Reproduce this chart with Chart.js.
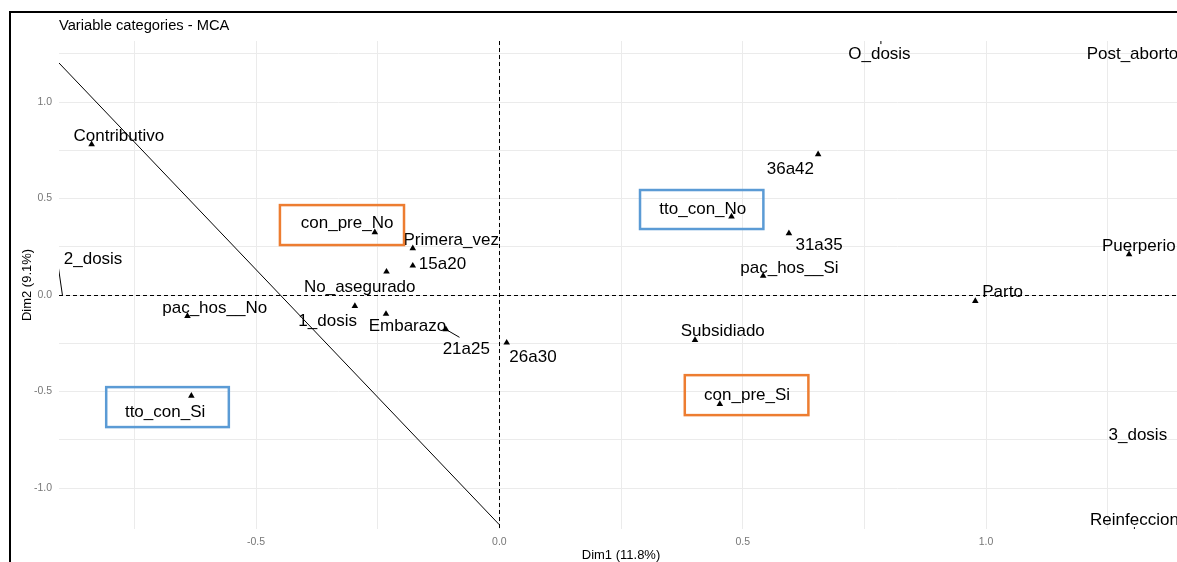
<!DOCTYPE html>
<html>
<head>
<meta charset="utf-8">
<script src="https://cdn.jsdelivr.net/npm/chart.js@4.4.0/dist/chart.umd.min.js"></script>
<style>
  body { margin: 0; background: #fff; }
  #wrap { width: 1177px; height: 562px; position: relative; }
</style>
</head>
<body>
<div id="wrap"><canvas id="mca" width="1177" height="562"></canvas></div>
<script>
// category coordinates (Dim1, Dim2) of the MCA points
const pointNames = ['Contributivo', 'con_pre_No', 'Primera_vez', '15a20', 'No_asegurado', '1_dosis',
  'Embarazo', '21a25', '26a30', 'pac_hos__No', 'tto_con_Si', 'tto_con_No', '36a42', '31a35',
  'pac_hos__Si', 'Parto', 'Subsidiado', 'con_pre_Si', 'Puerperio'];
const dim1 = [-0.838, -0.256, -0.178, -0.178, -0.232, -0.297, -0.233, -0.110, 0.015, -0.641, -0.633,
  0.477, 0.655, 0.595, 0.542, 0.978, 0.402, 0.453, 1.294];
const dim2 = [0.781, 0.325, 0.242, 0.152, 0.121, -0.057, -0.098, -0.178, -0.247, -0.109, -0.522,
  0.406, 0.729, 0.320, 0.100, -0.031, -0.233, -0.565, 0.211];

// repelled text labels (some points lie outside the visible panel)
const labelText = ['Contributivo', '2_dosis', 'con_pre_No', 'Primera_vez', '15a20', 'No_asegurado',
  '1_dosis', 'Embarazo', '21a25', '26a30', 'pac_hos__No', 'tto_con_Si', 'tto_con_No', '36a42',
  '31a35', 'pac_hos__Si', 'Parto', 'Subsidiado', 'con_pre_Si', 'O_dosis', 'Post_aborto',
  'Puerperio', '3_dosis', 'Reinfeccion'];
const labelX = [-0.782, -0.835, -0.313, -0.099, -0.117, -0.287, -0.353, -0.189, -0.068, 0.069,
  -0.585, -0.687, 0.418, 0.598, 0.657, 0.596, 1.034, 0.459, 0.509, 0.781, 1.301, 1.314, 1.312, 1.305];
const labelY = [0.824, 0.185, 0.371, 0.281, 0.161, 0.040, -0.138, -0.164, -0.281, -0.325, -0.069,
  -0.605, 0.444, 0.651, 0.259, 0.141, 0.012, -0.187, -0.518, 1.247, 1.247, 0.250, -0.725, -1.166];

// label connector segments [x0, y0, x1, y1]
const segments = [
  [-0.906, 0.139, -0.898, 0.0],
  [-0.110, -0.178, -0.082, -0.219],
  [0.784, 1.318, 0.784, 1.300],
  [1.305, -1.202, 1.305, -1.218]
];

// highlight boxes [x0, y0, x1, y1, colour]
const boxes = [
  [-0.451, 0.466, -0.196, 0.259, '#ED7D31'],
  [0.381, -0.415, 0.635, -0.622, '#ED7D31'],
  [-0.808, -0.477, -0.556, -0.684, '#5B9BD5'],
  [0.289, 0.544, 0.5425, 0.342, '#5B9BD5']
];

// separating line drawn over the map
const cutLineX = [-0.905, 0];
const cutLineY = [1.202, -1.19];

const xRange = [-0.905, 1.3925];
const yRange = [-1.212, 1.316];
const xTicks = [-0.75, -0.5, -0.25, 0, 0.25, 0.5, 0.75, 1, 1.25];
const yTicks = [-1, -0.75, -0.5, -0.25, 0, 0.25, 0.5, 0.75, 1, 1.25];

const FONT = "'Liberation Sans', Arial, sans-serif";

function tickLabel(v) {
  if (Math.abs(v * 2 - Math.round(v * 2)) > 1e-6) return '';
  return v.toFixed(1);
}

const decor = {
  id: 'decor',
  beforeDatasetsDraw(chart) {
    const { ctx, chartArea: a, scales: { x, y } } = chart;
    ctx.save();
    ctx.beginPath();
    ctx.rect(a.left, a.top, a.right - a.left, a.bottom - a.top);
    ctx.clip();
    ctx.strokeStyle = '#000';
    ctx.lineWidth = 1;
    ctx.setLineDash([4, 3]);
    const py = Math.round(y.getPixelForValue(0)) + 0.5;
    const px = Math.round(x.getPixelForValue(0)) + 0.5;
    ctx.beginPath();
    ctx.moveTo(a.left, py); ctx.lineTo(a.right, py);
    ctx.moveTo(px, a.top); ctx.lineTo(px, a.bottom);
    ctx.stroke();
    ctx.restore();
  },
  afterDatasetsDraw(chart) {
    const { ctx, chartArea: a, scales: { x, y } } = chart;
    ctx.save();
    ctx.beginPath();
    ctx.rect(a.left, a.top, a.right - a.left, a.bottom - a.top);
    ctx.clip();
    // connectors
    ctx.strokeStyle = '#000';
    ctx.lineWidth = 1;
    segments.forEach(s => {
      ctx.beginPath();
      ctx.moveTo(x.getPixelForValue(s[0]), y.getPixelForValue(s[1]));
      ctx.lineTo(x.getPixelForValue(s[2]), y.getPixelForValue(s[3]));
      ctx.stroke();
    });
    // labels
    ctx.fillStyle = '#000';
    ctx.font = '17px ' + FONT;
    ctx.textAlign = 'center';
    ctx.textBaseline = 'middle';
    labelText.forEach((t, i) => {
      ctx.fillText(t, x.getPixelForValue(labelX[i]), y.getPixelForValue(labelY[i]));
    });
    ctx.restore();

    // boxes
    ctx.save();
    ctx.lineWidth = 2.5;
    boxes.forEach(b => {
      const x0 = x.getPixelForValue(b[0]), x1 = x.getPixelForValue(b[2]);
      const y0 = y.getPixelForValue(b[1]), y1 = y.getPixelForValue(b[3]);
      ctx.strokeStyle = b[4];
      ctx.strokeRect(x0, y0, x1 - x0, y1 - y0);
    });
    ctx.restore();

    // title, axis titles, frame
    ctx.save();
    ctx.fillStyle = '#000';
    ctx.textBaseline = 'middle';
    ctx.textAlign = 'left';
    ctx.font = '14.7px ' + FONT;
    ctx.fillText('Variable categories - MCA', a.left, 26);
    ctx.font = '13px ' + FONT;
    ctx.textAlign = 'center';
    ctx.fillText('Dim1 (11.8%)', 621, 555);
    ctx.translate(27, 285);
    ctx.rotate(-Math.PI / 2);
    ctx.fillText('Dim2 (9.1%)', 0, 0);
    ctx.restore();

    ctx.save();
    ctx.strokeStyle = '#000';
    ctx.lineWidth = 2;
    ctx.beginPath();
    ctx.moveTo(10, 562); ctx.lineTo(10, 12); ctx.lineTo(1177, 12);
    ctx.stroke();
    ctx.restore();
  }
};

new Chart(document.getElementById('mca'), {
  type: 'scatter',
  data: {
    datasets: [
      {
        type: 'line',
        data: cutLineX.map((v, i) => ({ x: v, y: cutLineY[i] })),
        borderColor: '#000',
        borderWidth: 1,
        pointRadius: 0,
        fill: false
      },
      {
        data: dim1.map((v, i) => ({ x: v, y: dim2[i], name: pointNames[i] })),
        pointStyle: 'triangle',
        pointRadius: 3.8,
        backgroundColor: '#000',
        borderColor: '#000',
        borderWidth: 0
      }
    ]
  },
  options: {
    responsive: false,
    animation: false,
    layout: { autoPadding: false, padding: { left: 10, top: 41, right: 0, bottom: 0 } },
    plugins: { legend: { display: false }, tooltip: { enabled: false }, title: { display: false } },
    scales: {
      x: {
        type: 'linear',
        min: xRange[0],
        max: xRange[1],
        afterBuildTicks: s => { s.ticks = xTicks.map(v => ({ value: v })); },
        afterFit: s => { s.height = 33; },
        grid: { color: '#EBEBEB', lineWidth: 1, drawTicks: false },
        border: { display: false },
        ticks: {
          callback: v => tickLabel(v),
          autoSkip: false,
          maxRotation: 0,
          padding: 7,
          color: '#777',
          font: { family: FONT, size: 10.5 }
        }
      },
      y: {
        type: 'linear',
        min: yRange[0],
        max: yRange[1],
        afterBuildTicks: s => { s.ticks = yTicks.map(v => ({ value: v })); },
        afterFit: s => { s.width = 49; },
        grid: { color: '#EBEBEB', lineWidth: 1, drawTicks: false },
        border: { display: false },
        ticks: {
          callback: v => tickLabel(v),
          autoSkip: false,
          padding: 7,
          color: '#777',
          font: { family: FONT, size: 10.5 }
        }
      }
    }
  },
  plugins: [decor]
});
</script>
</body>
</html>
